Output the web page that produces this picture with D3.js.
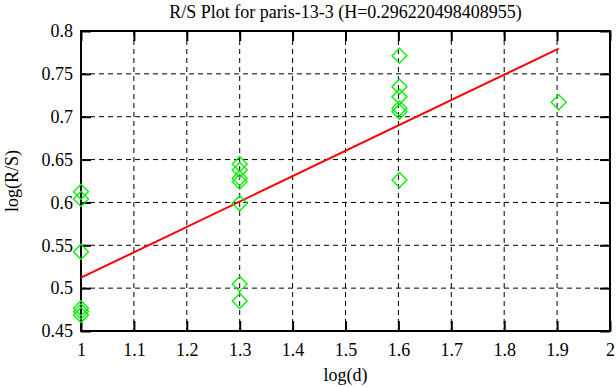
<!DOCTYPE html>
<html>
<head>
<meta charset="utf-8">
<script src="https://cdn.jsdelivr.net/npm/d3@7"></script>
<style>
  body { margin: 0; background: #fff; }
  svg text { font-family: "Liberation Serif", "DejaVu Serif", serif; }
</style>
</head>
<body>
<div class="chart"></div>
<script>
// points: log(d) -> log(R/S)
var pointX = [1, 1, 1, 1, 1, 1,
              1.3, 1.3, 1.3, 1.3, 1.3, 1.3, 1.3,
              1.602, 1.602, 1.602, 1.602, 1.602, 1.602,
              1.903];
var pointY = [0.6125, 0.604, 0.5425, 0.4765, 0.4727, 0.4687,
              0.6448, 0.6378, 0.6282, 0.6242, 0.599, 0.5049, 0.485,
              0.7712, 0.735, 0.7233, 0.7098, 0.7058, 0.6262,
              0.7168];

// fitted line endpoints
var fitX = [1, 1.903];
var fitY = [0.5122, 0.7795];

var xTicks = [1, 1.1, 1.2, 1.3, 1.4, 1.5, 1.6, 1.7, 1.8, 1.9, 2];
var yTicks = [0.45, 0.5, 0.55, 0.6, 0.65, 0.7, 0.75, 0.8];

var title = "R/S Plot for paris-13-3 (H=0.296220498408955)";

var width = 616, height = 387;
var plotLeft = 81, plotRight = 610, plotTop = 31, plotBottom = 331;
var serif = "'Liberation Serif', 'DejaVu Serif', serif";

var svg = d3.select(".chart")
  .append("svg")
    .attr("width", width)
    .attr("height", height);

var x = d3.scaleLinear().domain([1, 2]).range([plotLeft, plotRight]);
var y = d3.scaleLinear().domain([0.45, 0.8]).range([plotBottom, plotTop]);

// grid
svg.append("g").selectAll("line")
  .data(xTicks.slice(1, -1))
  .enter().append("line")
    .attr("x1", function(d) { return x(d); })
    .attr("x2", function(d) { return x(d); })
    .attr("y1", plotTop)
    .attr("y2", plotBottom)
    .attr("stroke", "#000")
    .attr("stroke-width", 1)
    .attr("stroke-dasharray", "5,4");

svg.append("g").selectAll("line")
  .data(yTicks.slice(1, -1))
  .enter().append("line")
    .attr("x1", plotLeft)
    .attr("x2", plotRight)
    .attr("y1", function(d) { return y(d); })
    .attr("y2", function(d) { return y(d); })
    .attr("stroke", "#000")
    .attr("stroke-width", 1)
    .attr("stroke-dasharray", "5,4");

// axes (ticks drawn inward, labels outside)
var tickLen = 10;
svg.append("g")
    .attr("transform", "translate(0," + plotBottom + ")")
    .call(d3.axisBottom(x).tickValues(xTicks).tickSize(-tickLen).tickPadding(12)
      .tickFormat(d3.format("")));
svg.append("g")
    .attr("transform", "translate(0," + plotTop + ")")
    .call(d3.axisTop(x).tickValues(xTicks).tickSize(-tickLen).tickFormat(""));
svg.append("g")
    .attr("transform", "translate(" + plotLeft + ",0)")
    .call(d3.axisLeft(y).tickValues(yTicks).tickSize(-tickLen).tickPadding(8)
      .tickFormat(d3.format("")));
svg.append("g")
    .attr("transform", "translate(" + plotRight + ",0)")
    .call(d3.axisRight(y).tickValues(yTicks).tickSize(-tickLen).tickFormat(""));

svg.selectAll(".domain").remove();
svg.selectAll("g").attr("font-family", serif);
svg.selectAll(".tick line").attr("stroke", "#000").attr("stroke-width", 2);
svg.selectAll(".tick text")
  .attr("fill", "#000")
  .style("font-family", serif)
  .style("font-size", "18px");

// frame
svg.append("rect")
  .attr("x", plotLeft)
  .attr("y", plotTop)
  .attr("width", plotRight - plotLeft)
  .attr("height", plotBottom - plotTop)
  .attr("fill", "none")
  .attr("stroke", "#000")
  .attr("stroke-width", 2);

// fit line
svg.append("line")
  .attr("x1", x(fitX[0]))
  .attr("y1", y(fitY[0]))
  .attr("x2", x(fitX[1]))
  .attr("y2", y(fitY[1]))
  .attr("stroke", "#ff0000")
  .attr("stroke-width", 2);

// points
var pts = pointX.map(function(d, i) { return [d, pointY[i]]; });
svg.append("g").selectAll("path")
  .data(pts)
  .enter().append("path")
    .attr("transform", function(d) { return "translate(" + x(d[0]) + "," + y(d[1]) + ")"; })
    .attr("d", "M0,-7.5L7.5,0L0,7.5L-7.5,0Z")
    .attr("fill", "none")
    .attr("stroke", "#00ee00")
    .attr("stroke-width", 1.3);

// titles
svg.append("text")
  .attr("x", (plotLeft + plotRight) / 2)
  .attr("y", 18)
  .attr("text-anchor", "middle")
  .style("font-family", serif)
  .style("font-size", "18px")
  .text(title);

svg.append("text")
  .attr("x", (plotLeft + plotRight) / 2)
  .attr("y", 381)
  .attr("text-anchor", "middle")
  .style("font-family", serif)
  .style("font-size", "18px")
  .text("log(d)");

svg.append("text")
  .attr("transform", "translate(18," + ((plotTop + plotBottom) / 2) + ") rotate(-90)")
  .attr("text-anchor", "middle")
  .style("font-family", serif)
  .style("font-size", "18px")
  .text("log(R/S)");
</script>
</body>
</html>
